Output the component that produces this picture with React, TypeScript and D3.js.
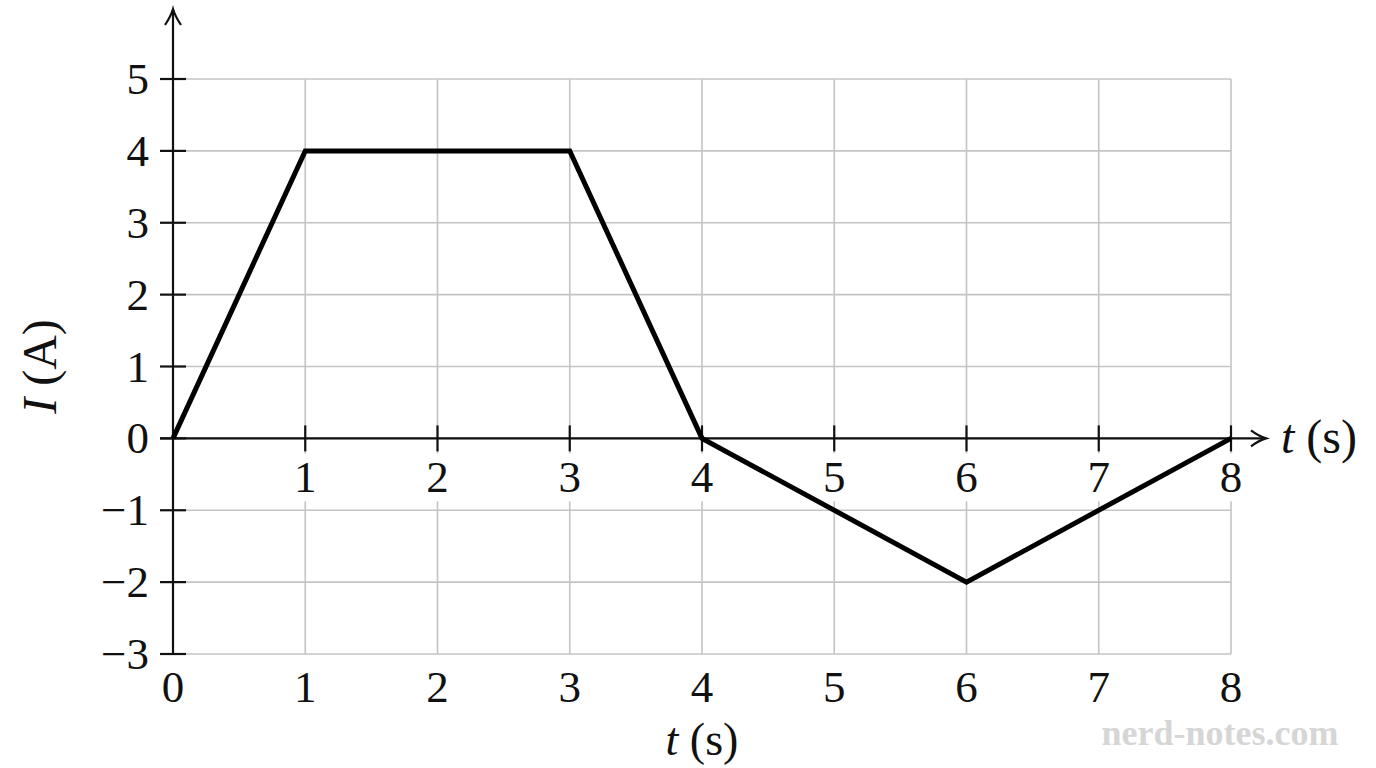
import React, { useEffect, useRef } from 'react';
import * as d3 from 'd3';

// current vs time
const times = [0, 1, 3, 4, 6, 8];
const currents = [0, 4, 4, 0, -2, 0];
const xTicks = [0, 1, 2, 3, 4, 5, 6, 7, 8];
const yTicks = [-3, -2, -1, 0, 1, 2, 3, 4, 5];

const W = 1376;
const H = 768;
const FONT = "'Liberation Serif', 'DejaVu Serif', serif";

const App: React.FC = () => {
  const svgRef = useRef<SVGSVGElement>(null);

  useEffect(() => {
    if (!svgRef.current) return;
    const svg = d3.select(svgRef.current);
    svg.selectAll('*').remove();

    const x = d3.scaleLinear().domain([0, 8]).range([173, 1231]);
    const y = d3.scaleLinear().domain([-3, 5]).range([654, 79]);

    const g = svg.append('g');

    // grid
    g.selectAll('line.vgrid')
      .data(xTicks.filter(d => d > 0))
      .enter().append('line')
      .attr('x1', d => x(d)).attr('x2', d => x(d))
      .attr('y1', y(-3)).attr('y2', y(5))
      .attr('stroke', '#c4c4c4').attr('stroke-width', 1.6);
    g.selectAll('line.hgrid')
      .data(yTicks)
      .enter().append('line')
      .attr('x1', x(0)).attr('x2', x(8))
      .attr('y1', d => y(d)).attr('y2', d => y(d))
      .attr('stroke', '#c4c4c4').attr('stroke-width', 1.6);

    // axes
    const axisColor = '#111';
    g.append('line')
      .attr('x1', x(0)).attr('x2', x(0))
      .attr('y1', y(-3)).attr('y2', 10)
      .attr('stroke', axisColor).attr('stroke-width', 2.2);
    g.append('line')
      .attr('x1', x(0) - 13).attr('x2', 1264)
      .attr('y1', y(0)).attr('y2', y(0))
      .attr('stroke', axisColor).attr('stroke-width', 2.2);

    // arrow heads
    g.append('path')
      .attr('d', `M ${x(0) - 8} 25 Q ${x(0) - 2} 16 ${x(0)} 9 Q ${x(0) + 2} 16 ${x(0) + 8} 25`)
      .attr('fill', 'none').attr('stroke', axisColor).attr('stroke-width', 2.2);
    g.append('path')
      .attr('d', `M 1251 ${y(0) - 8} Q 1259 ${y(0) - 2} 1266 ${y(0)} Q 1259 ${y(0) + 2} 1251 ${y(0) + 8}`)
      .attr('fill', 'none').attr('stroke', axisColor).attr('stroke-width', 2.2);

    // y ticks
    g.selectAll('line.ytick')
      .data(yTicks)
      .enter().append('line')
      .attr('x1', x(0) - 13).attr('x2', x(0) + 13)
      .attr('y1', d => y(d)).attr('y2', d => y(d))
      .attr('stroke', axisColor).attr('stroke-width', 2.2);

    // x ticks on the zero line
    g.selectAll('line.xtick')
      .data(xTicks.filter(d => d > 0))
      .enter().append('line')
      .attr('x1', d => x(d)).attr('x2', d => x(d))
      .attr('y1', y(0) - 13).attr('y2', y(0) + 13)
      .attr('stroke', axisColor).attr('stroke-width', 2.2);

    const fmt = (d: number) => (d < 0 ? '\u2212' + Math.abs(d) : String(d));

    // y labels
    g.selectAll('text.ylab')
      .data(yTicks)
      .enter().append('text')
      .attr('x', x(0) - 24)
      .attr('y', d => y(d) + 15)
      .attr('text-anchor', 'end')
      .style('font-family', FONT)
      .style('font-size', '45px')
      .style('fill', '#111')
      .text(d => fmt(d));

    // upper x labels with white patch behind
    const upper = g.selectAll('g.xlab')
      .data(xTicks.filter(d => d > 0))
      .enter().append('g')
      .attr('transform', d => `translate(${x(d)},0)`);
    upper.append('rect')
      .attr('x', -17).attr('y', y(0) + 15)
      .attr('width', 34).attr('height', 48)
      .attr('fill', '#fff');
    upper.append('text')
      .attr('y', y(0) + 54)
      .attr('text-anchor', 'middle')
      .style('font-family', FONT)
      .style('font-size', '45px')
      .style('fill', '#111')
      .text(d => fmt(d));

    // bottom x labels
    g.selectAll('text.xbot')
      .data(xTicks)
      .enter().append('text')
      .attr('x', d => x(d))
      .attr('y', 702)
      .attr('text-anchor', 'middle')
      .style('font-family', FONT)
      .style('font-size', '45px')
      .style('fill', '#111')
      .text(d => fmt(d));

    // data line
    const line = d3.line<number>()
      .x((_, i) => x(times[i]))
      .y(d => y(d));
    g.append('path')
      .datum(currents)
      .attr('d', line)
      .attr('fill', 'none')
      .attr('stroke', '#000')
      .attr('stroke-width', 5)
      .attr('stroke-linejoin', 'miter');

    // axis titles
    const tTitle = (tx: number, ty: number, anchor: string, size: number) => {
      const t = g.append('text')
        .attr('x', tx).attr('y', ty)
        .attr('text-anchor', anchor)
        .style('font-family', FONT)
        .style('font-size', `${size}px`)
        .style('fill', '#111');
      t.append('tspan').style('font-style', 'italic').text('t');
      t.append('tspan').text(' (s)');
    };
    tTitle(x(4), 755, 'middle', 46);
    tTitle(1281, y(0) + 15, 'start', 48);

    const iTitle = g.append('text')
      .attr('transform', `translate(56, ${y(1.0)}) rotate(-90)`)
      .attr('text-anchor', 'middle')
      .style('font-family', FONT)
      .style('font-size', '48px')
      .style('fill', '#111');
    iTitle.append('tspan').style('font-style', 'italic').text('I');
    iTitle.append('tspan').text(' (A)');

    // watermark
    g.append('text')
      .attr('x', 1220).attr('y', 745)
      .attr('text-anchor', 'middle')
      .style('font-family', FONT)
      .style('font-size', '36px')
      .style('font-weight', 'bold')
      .style('fill', '#d6d6d6')
      .text('nerd-notes.com');
  }, []);

  return (
    <svg
      ref={svgRef}
      width={W}
      height={H}
      style={{ position: 'absolute', left: 0, top: 0, background: '#fff' }}
    />
  );
};

export default App;
